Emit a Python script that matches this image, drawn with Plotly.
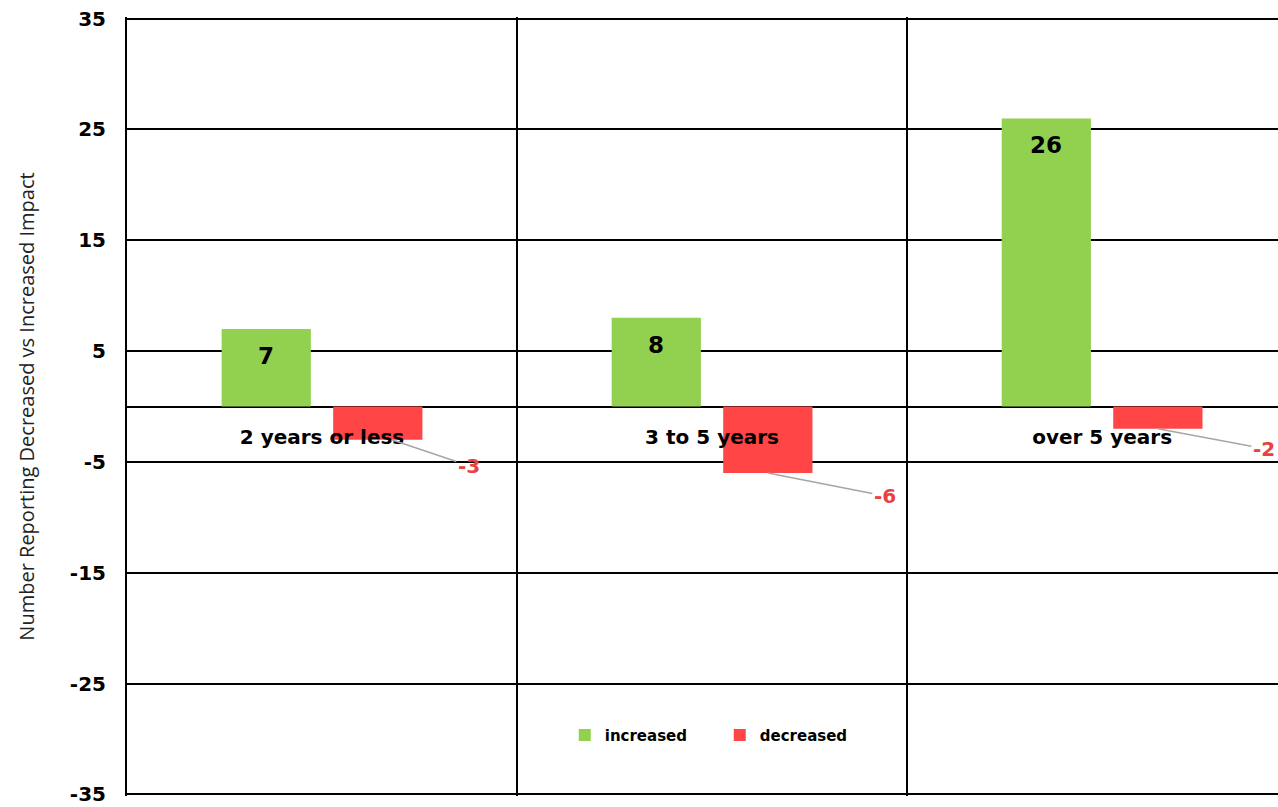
import plotly.graph_objects as go

# Survey results by length of time
categories = ["2 years or less", "3 to 5 years", "over 5 years"]
increased = [7, 8, 26]
decreased = [-3, -6, -2]
y_ticks = [-35, -25, -15, -5, 5, 15, 25, 35]

GREEN = "#92D050"
RED = "#FF4545"
LABEL_RED = "#E94040"

BARGAP = 0.428
BARGROUPGAP = 0.2
# centre offset of each bar within its category group
slot = (1 - BARGAP) / 2
offset = slot / 2

X_RANGE = [-0.5, 2.451]
PLOT_W = 1278 - 127
px_per_cat = PLOT_W / (X_RANGE[1] - X_RANGE[0])

fig = go.Figure()
fig.add_trace(go.Bar(name="increased", x=categories, y=increased,
                     marker=dict(color=GREEN, line=dict(width=0))))
fig.add_trace(go.Bar(name="decreased", x=categories, y=decreased,
                     marker=dict(color=RED, line=dict(width=0))))

annotations = []
# value labels inside the top of the green bars
for i, v in enumerate(increased):
    annotations.append(dict(
        x=i - offset, y=v, xref="x", yref="y", text=str(v), showarrow=False,
        yanchor="top", yshift=-12,
        font=dict(family="DejaVu Sans", size=23, color="black", weight="bold")))

# value labels for the red bars, pulled out with leader lines
# (leader start shift in px, label offset x, label offset y)
leader = [(14, 77, 26), (0, 117, 23), (0, 106, 20)]
for i, v in enumerate(decreased):
    dx, ax, ay = leader[i]
    annotations.append(dict(
        x=i + offset + dx / px_per_cat, y=v, xref="x", yref="y", text=str(v),
        showarrow=True, arrowhead=0, arrowwidth=1.5, arrowcolor="#A6A6A6",
        ax=ax, ay=ay, standoff=0,
        font=dict(family="DejaVu Sans", size=20, color=LABEL_RED, weight="bold")))

fig.update_layout(
    width=1278, height=807,
    margin=dict(l=127, r=0, t=17, b=11),
    paper_bgcolor="white", plot_bgcolor="white",
    barmode="group", bargap=BARGAP, bargroupgap=BARGROUPGAP,
    showlegend=True,
    legend=dict(orientation="h", x=0.515, y=0.078, xanchor="center", yanchor="middle",
                font=dict(family="DejaVu Sans", size=15, color="black", weight="bold"),
                bgcolor="rgba(0,0,0,0)", entrywidth=110, entrywidthmode="pixels"),
    annotations=annotations,
    xaxis=dict(
        type="category", range=X_RANGE,
        anchor="free", position=0.5,
        showline=False, zeroline=False,
        showgrid=True, gridcolor="black", gridwidth=2, tickson="boundaries",
        ticks="", ticklabelstandoff=16,
        tickfont=dict(family="DejaVu Sans", size=20, color="black", weight="bold"),
    ),
    yaxis=dict(
        range=[-35.15, 35.15], tickvals=y_ticks, ticktext=[str(t) for t in y_ticks],
        showgrid=True, gridcolor="black", gridwidth=2,
        zeroline=True, zerolinecolor="black", zerolinewidth=2,
        showline=True, linecolor="black", linewidth=2,
        ticks="", ticklabelstandoff=15,
        tickfont=dict(family="DejaVu Sans", size=20, color="black", weight="bold"),
        title=dict(text="Number Reporting Decreased vs Increased Impact",
                   font=dict(family="Open Sans", size=20, color="#222222"),
                   standoff=30),
    ),
)

fig.write_html("out.html")
